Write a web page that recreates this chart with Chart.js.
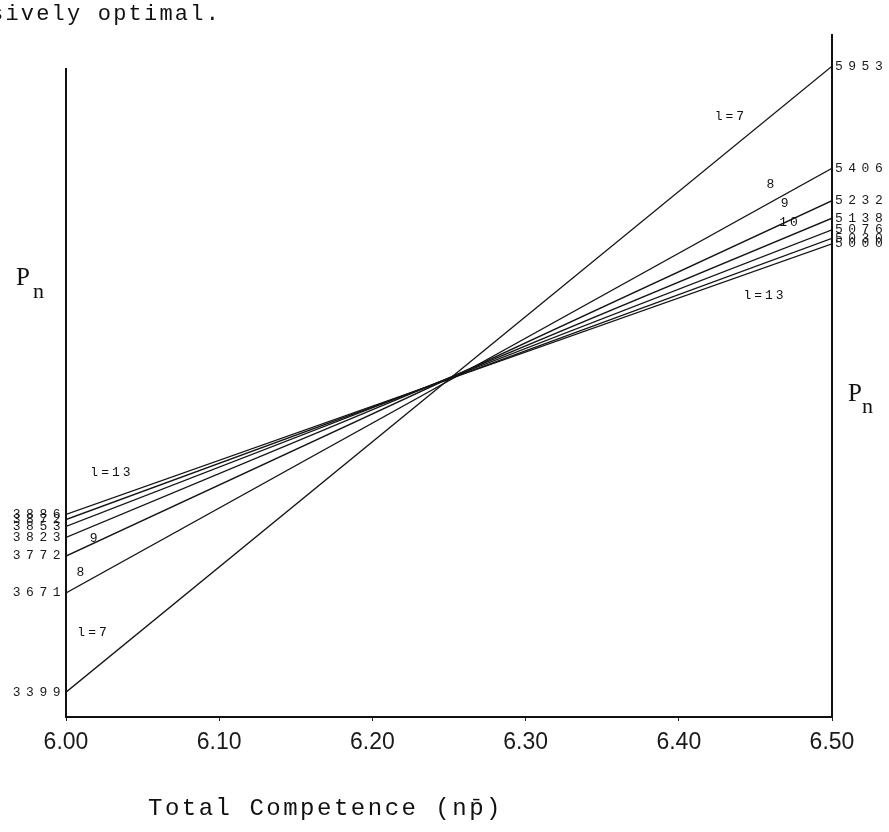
<!DOCTYPE html>
<html lang="en">
<head>
  <meta charset="UTF-8">
  <title>P_n vs Total Competence</title>
  <script src="https://cdn.jsdelivr.net/npm/chart.js"></script>
  <style>
    html, body {
      margin: 0;
      padding: 0;
      background: #fff;
    }
    #wrap {
      width: 889px;
      height: 832px;
    }
  </style>
</head>
<body>

  <div id="wrap"><canvas id="pnChart" width="889" height="832"></canvas></div>

  <script>
    // one line per l = 7 ... 13, from np = 6.00 to np = 6.50
    const lineNames = ['7', '8', '9', '10', '11', '12', '13'];
    const pnLeft = [3399, 3671, 3772, 3823, 3853, 3872, 3886];
    const pnRight = [5953, 5406, 5232, 5138, 5076, 5030, 5000];
    const xTicks = [6.00, 6.10, 6.20, 6.30, 6.40, 6.50];
    const leftTicks = pnLeft;
    const rightTicks = pnRight;

    // the figure is not to one scale: left and right axes differ
    const LEFT_MIN = 3331, LEFT_MAX = 5186;
    const RIGHT_MIN = 2462, RIGHT_MAX = 6094;

    // labels written next to the lines (x in np, y in left-axis units)
    const lineLabels = [
      { text: 'l=7', x: 6.434, y: 4975 },
      { text: '8', x: 6.4608, y: 4791 },
      { text: '9', x: 6.470, y: 4739 },
      { text: '10', x: 6.4726, y: 4685 },
      { text: 'l=13', x: 6.4563, y: 4487 },
      { text: 'l=13', x: 6.030, y: 4000 },
      { text: '9', x: 6.019, y: 3819 },
      { text: '8', x: 6.0104, y: 3726 },
      { text: 'l=7', x: 6.018, y: 3561 }
    ];

    const MONO = "'Liberation Mono', 'DejaVu Sans Mono', monospace";

    function toLeftUnits(v) {
      return LEFT_MIN + (v - RIGHT_MIN) * (LEFT_MAX - LEFT_MIN) / (RIGHT_MAX - RIGHT_MIN);
    }

    const datasets = lineNames.map((n, i) => ({
      label: 'l=' + n,
      data: [
        { x: xTicks[0], y: pnLeft[i] },
        { x: xTicks[xTicks.length - 1], y: toLeftUnits(pnRight[i]) }
      ],
      borderColor: '#151515',
      borderWidth: 1.3,
      pointRadius: 0,
      tension: 0,
      yAxisID: 'y'
    }));

    const paperText = {
      id: 'paperText',
      afterDatasetsDraw(chart) {
        // y tick labels are drawn after this, typewriter spacing
        chart.ctx.letterSpacing = '5.5px';
      },
      afterDraw(chart) {
        const { ctx, chartArea: a, scales: { x, y } } = chart;
        ctx.save();
        ctx.letterSpacing = '0px';

        // axes
        ctx.strokeStyle = '#111';
        ctx.lineWidth = 2;
        ctx.beginPath();
        ctx.moveTo(a.left, a.top + 28);
        ctx.lineTo(a.left, a.bottom);
        ctx.lineTo(a.right, a.bottom);
        ctx.lineTo(a.right, a.top - 6);
        ctx.stroke();

        ctx.fillStyle = '#111';
        ctx.font = '13px ' + MONO;
        ctx.letterSpacing = '3px';
        ctx.textAlign = 'center';
        ctx.textBaseline = 'middle';
        lineLabels.forEach(l => {
          ctx.fillText(l.text, x.getPixelForValue(l.x), y.getPixelForValue(l.y));
        });

        ctx.textAlign = 'left';
        ctx.textBaseline = 'alphabetic';
        ctx.font = '22px ' + MONO;
        ctx.letterSpacing = '2.2px';
        ctx.fillText('sively optimal.', -10, 20);

        ctx.font = '24px ' + MONO;
        ctx.letterSpacing = '2.5px';
        ctx.fillText('Total Competence (np\u0304)', 148, 815);

        // P_n on both sides
        ctx.letterSpacing = '0px';
        ctx.font = "25px 'Liberation Serif', serif";
        ctx.fillText('P', 16, 285);
        ctx.fillText('P', 848, 401);
        ctx.font = "22px 'Liberation Serif', serif";
        ctx.fillText('n', 33, 298);
        ctx.fillText('n', 862, 413);

        ctx.restore();
        ctx.letterSpacing = '0px';
      }
    };

    new Chart(document.getElementById('pnChart'), {
      type: 'line',
      data: { datasets },
      plugins: [paperText],
      options: {
        responsive: false,
        animation: false,
        layout: { padding: { top: 40 } },
        plugins: {
          legend: { display: false },
          tooltip: { enabled: false }
        },
        scales: {
          x: {
            type: 'linear',
            min: 6.0,
            max: 6.5,
            afterBuildTicks: s => { s.ticks = xTicks.map(v => ({ value: v })); },
            afterFit: s => { s.height = 115; },
            grid: { drawOnChartArea: false, drawTicks: true, tickLength: 4, color: '#222' },
            border: { display: false },
            ticks: {
              callback: v => Number(v).toFixed(2),
              font: { family: "'Liberation Sans', sans-serif", size: 23 },
              color: '#1a1a1a',
              padding: 8,
              maxRotation: 0,
              autoSkip: false
            }
          },
          y: {
            position: 'left',
            min: LEFT_MIN,
            max: LEFT_MAX,
            afterBuildTicks: s => { s.ticks = leftTicks.map(v => ({ value: v })); },
            afterFit: s => { s.width = 66; },
            grid: { display: false, drawTicks: false },
            border: { display: false },
            ticks: {
              z: 1,
              autoSkip: false,
              padding: 0,
              font: { family: MONO, size: 13 },
              color: '#1a1a1a',
              callback: v => String(v)
            }
          },
          y2: {
            position: 'right',
            min: RIGHT_MIN,
            max: RIGHT_MAX,
            afterBuildTicks: s => { s.ticks = rightTicks.map(v => ({ value: v })); },
            afterFit: s => { s.width = 57; },
            grid: { display: false, drawTicks: false },
            border: { display: false },
            ticks: {
              z: 1,
              autoSkip: false,
              padding: 3,
              font: { family: MONO, size: 13 },
              color: '#1a1a1a',
              callback: v => String(v)
            }
          }
        }
      }
    });
  </script>

</body>
</html>
